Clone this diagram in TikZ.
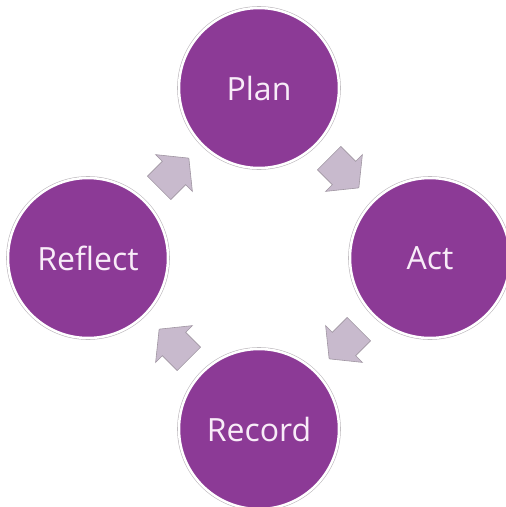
\documentclass[tikz,border=0pt]{standalone}
\usepackage{fontspec}
\setmainfont{Open Sans}
\definecolor{stagefill}{RGB}{140,58,150}
\definecolor{stagetext}{RGB}{248,236,248}
\definecolor{stagering}{RGB}{185,180,185}
\definecolor{arrowfill}{RGB}{200,186,205}
\definecolor{arrowline}{RGB}{160,150,162}
\tikzset{
  stage/.style={circle, minimum size=160pt, inner sep=0pt,
    fill=stagefill, draw=white, line width=2.5pt,
    preaction={draw=stagering, line width=3.6pt},
    text=stagetext, font=\fontsize{32}{36}\selectfont},
  cyclearrow/.pic={
    \path[fill=arrowfill, draw=arrowline, line width=0.6pt, line join=miter]
      (-21,-16.5) -- (0,-16.5) -- (0,-26) -- (21,0) -- (0,26)
      -- (0,16.5) -- (-21,16.5) -- cycle;
  }
}
\begin{document}
\begin{tikzpicture}[x=1pt, y=-1pt]
  \useasboundingbox[fill=white] (0,0) rectangle (506,507);
  % four stages of the cycle
  \node[stage] (plan)    at (259,88)  {Plan};
  \node[stage] (act)     at (430,258) {Act};
  \node[stage] (record)  at (259,429) {Record};
  \node[stage] (reflect) at (88,258)  {Reflect};
  % block arrows between the stages
  \pic[rotate=45]   at (174,173) {cyclearrow};
  \pic[rotate=-45]  at (344,173) {cyclearrow};
  \pic[rotate=-135] at (344,344) {cyclearrow};
  \pic[rotate=135]  at (174,344) {cyclearrow};
\end{tikzpicture}
\end{document}
